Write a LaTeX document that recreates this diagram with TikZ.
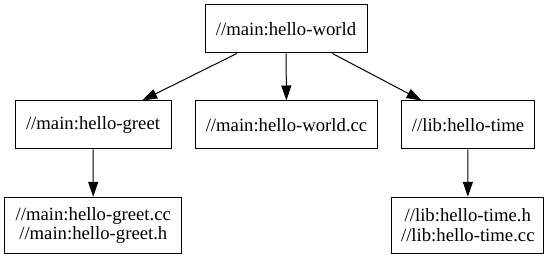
\documentclass[tikz,border=0pt]{standalone}
\usepackage{fontspec}
\setmainfont{Liberation Serif}
\usetikzlibrary{arrows.meta}
\begin{document}
\begin{tikzpicture}[x=1pt,y=-1pt,
  box/.style={draw=black, line width=1pt, inner sep=0pt, align=center,
    font=\fontsize{18.7}{19.5}\selectfont, minimum height=48pt},
  tallbox/.style={box, minimum height=56pt},
  edge/.style={draw=black, line width=1pt, -{Triangle[length=15pt,width=10pt]}}]
\useasboundingbox (0,0) rectangle (550,259);
\node[box, minimum width=162pt] (top) at (286,29) {//main:hello-world};
\node[box, minimum width=156pt] (greet) at (93,125) {//main:hello-greet};
\node[box, minimum width=182pt] (worldcc) at (286.5,125) {//main:hello-world.cc};
\node[box, minimum width=133pt] (time) at (468,125) {//lib:hello-time};
\node[tallbox, minimum width=177pt] (greetsrc) at (93.3,225.3) {//main:hello-greet.cc\\//main:hello-greet.h};
\node[tallbox, minimum width=152pt] (timesrc) at (467.8,225.3) {//lib:hello-time.h\\//lib:hello-time.cc};
\draw[edge] (top) -- (greet);
\draw[edge] (top) -- (worldcc);
\draw[edge] (top) -- (time);
\draw[edge] (greet) -- (greetsrc);
\draw[edge] (time) -- (timesrc);
\end{tikzpicture}
\end{document}
